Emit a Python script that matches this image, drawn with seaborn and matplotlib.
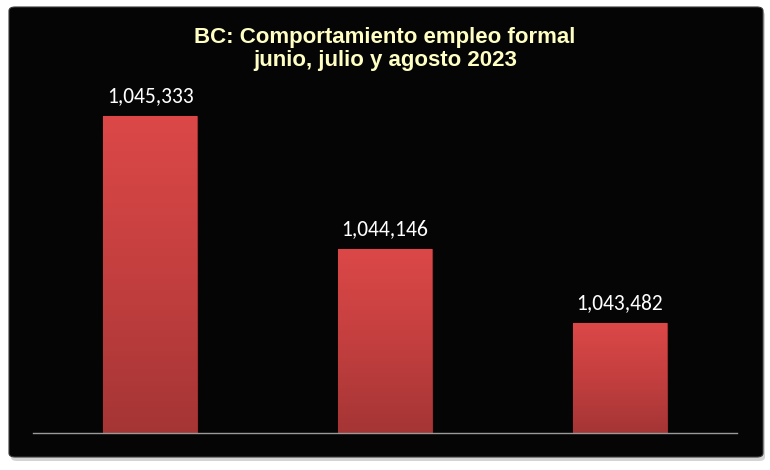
import numpy as np
import pandas as pd
import matplotlib
matplotlib.use("Agg")
import matplotlib.pyplot as plt
from matplotlib.patches import FancyBboxPatch
from matplotlib.colors import LinearSegmentedColormap
import seaborn as sns

meses = ["junio", "julio", "agosto"]
empleo = [1045333, 1044146, 1043482]
etiquetas = ["1,045,333", "1,044,146", "1,043,482"]

titulo = "BC: Comportamiento empleo formal\njunio, julio y agosto 2023"

sns.set_theme(style="white")
plt.rcParams["font.family"] = ["Liberation Sans Narrow", "Liberation Sans", "DejaVu Sans"]

fig = plt.figure(figsize=(7.7, 4.7), dpi=100)
fig.patch.set_facecolor("white")

# black panel with a soft shadow, like the spreadsheet chart area
W, H = 770, 470
shadow = FancyBboxPatch((11 / W, 9 / H), 754 / W, 450 / H,
                        boxstyle="round,pad=0,rounding_size=0.008",
                        transform=fig.transFigure, facecolor="#b8b8b8",
                        edgecolor="none", alpha=0.6, zorder=0)
panel = FancyBboxPatch((9 / W, 13 / H), 754 / W, 450 / H,
                       boxstyle="round,pad=0,rounding_size=0.008",
                       transform=fig.transFigure, facecolor="#050505",
                       edgecolor="#3a3a3a", linewidth=0.8, zorder=1)
fig.patches.extend([shadow, panel])

ax = fig.add_axes([33 / W, 37 / H, 704 / W, 392 / H])
ax.set_facecolor("none")
ax.set_zorder(2)

df = pd.DataFrame({"mes": meses, "empleo": empleo})
sns.barplot(data=df, x="mes", y="empleo", ax=ax, color="#d64444",
            width=0.4, saturation=1, edgecolor="#9c2e2e", linewidth=0.8)

ymin, ymax = 1042500, 1046000
ax.set_ylim(ymin, ymax)
ax.set_xlim(-0.5, 2.5)

# vertical gradient inside each bar (only over the visible part)
grad = LinearSegmentedColormap.from_list("rojo", ["#a53535", "#c43f3f", "#dc4848"])
for p in ax.patches:
    x0 = p.get_x()
    y1 = p.get_y() + p.get_height()
    im = ax.imshow(np.linspace(0, 1, 256).reshape(-1, 1), cmap=grad, origin="lower",
                   aspect="auto", extent=[x0, x0 + p.get_width(), ymin, y1],
                   zorder=p.get_zorder() + 0.1)
    im.set_clip_path(p)
ax.set_xlim(-0.5, 2.5)
ax.set_ylim(ymin, ymax)

for i, (v, t) in enumerate(zip(empleo, etiquetas)):
    ax.annotate(t, (i, v), xytext=(0, 14), textcoords="offset points",
                ha="center", va="center", color="white", fontsize=15.5,
                family=["Carlito", "Liberation Sans", "DejaVu Sans"])

for s in ["top", "right", "left"]:
    ax.spines[s].set_visible(False)
ax.spines["bottom"].set_color("#9a9a9a")
ax.spines["bottom"].set_linewidth(1)
ax.spines["bottom"].set_zorder(5)
ax.set_xticks([])
ax.set_yticks([])
ax.set_xlabel("")
ax.set_ylabel("")

fig.text(385 / W, 1 - 49 / H, titulo, ha="center", va="center", color="#ffffc4",
         fontsize=16, fontweight="bold", linespacing=1.15, zorder=3)

fig.savefig("out.png", dpi=100, facecolor=fig.get_facecolor())
